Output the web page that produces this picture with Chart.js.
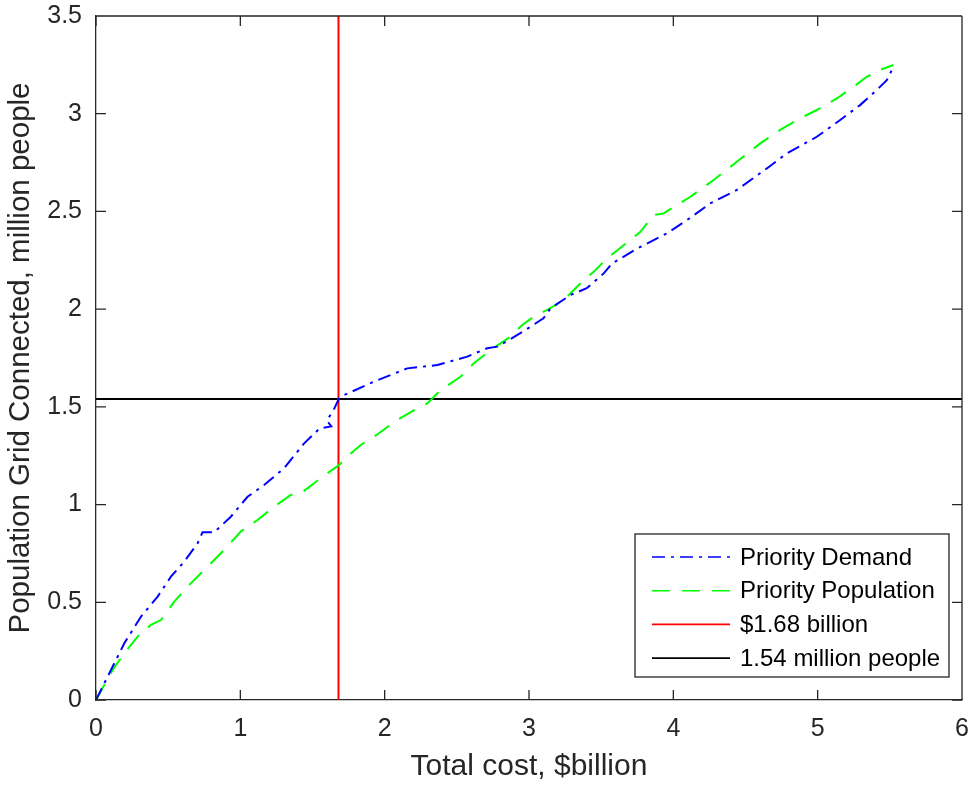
<!DOCTYPE html>
<html>
<head>
<meta charset="utf-8">
<script src="https://cdn.jsdelivr.net/npm/chart.js@4.4.1/dist/chart.umd.min.js"></script>
<style>
  body { margin: 0; background: #fff; }
</style>
</head>
<body>
<canvas id="myChart" width="970" height="785"></canvas>
<script>
// Priority Demand curve (cost in $billion, people in millions)
var demandCost = [0, 0.104, 0.196, 0.311, 0.427, 0.519, 0.611, 0.704, 0.738, 0.819,
  0.934, 1.05, 1.165, 1.303, 1.442, 1.55, 1.63, 1.60, 1.65, 1.684,
  1.695, 1.926, 2.157, 2.365, 2.572, 2.71, 2.78, 2.92, 3.01, 3.10,
  3.149, 3.287, 3.40, 3.518, 3.576, 3.75, 3.956, 4.095, 4.256, 4.44,
  4.648, 4.786, 4.994, 5.156, 5.294, 5.409, 5.479, 5.525];
var demandPeople = [0, 0.154, 0.29, 0.426, 0.529, 0.631, 0.708, 0.802, 0.858, 0.858,
  0.938, 1.04, 1.10, 1.186, 1.313, 1.39, 1.40, 1.43, 1.49, 1.544,
  1.552, 1.629, 1.697, 1.714, 1.757, 1.80, 1.808, 1.868, 1.91, 1.953,
  2.004, 2.072, 2.107, 2.183, 2.234, 2.31, 2.388, 2.456, 2.541, 2.61,
  2.72, 2.797, 2.882, 2.968, 3.044, 3.121, 3.172, 3.24];

// Priority Population curve
var popCost = [0, 0.115, 0.196, 0.288, 0.38, 0.45, 0.542, 0.657, 0.773, 0.888,
  1.003, 1.119, 1.234, 1.349, 1.419, 1.511, 1.603, 1.684, 1.765, 1.834,
  1.926, 2.087, 2.226, 2.295, 2.388, 2.526, 2.618, 2.734, 2.872, 2.953,
  3.033, 3.126, 3.241, 3.38, 3.45, 3.54, 3.61, 3.772, 3.864, 3.933,
  4.025, 4.118, 4.279, 4.44, 4.602, 4.74, 4.879, 4.994, 5.133, 5.248,
  5.34, 5.432, 5.525];
var popPeople = [0, 0.154, 0.239, 0.324, 0.384, 0.409, 0.503, 0.597, 0.682, 0.768,
  0.862, 0.921, 0.989, 1.049, 1.058, 1.109, 1.16, 1.202, 1.262, 1.305,
  1.347, 1.433, 1.493, 1.518, 1.586, 1.654, 1.723, 1.791, 1.859, 1.919,
  1.961, 1.996, 2.047, 2.149, 2.192, 2.26, 2.30, 2.396, 2.482, 2.49,
  2.533, 2.575, 2.661, 2.754, 2.848, 2.917, 2.976, 3.019, 3.078, 3.138,
  3.189, 3.224, 3.249];

// reference lines
var budgetCost = 1.68;
var targetPeople = 1.54;

var xTicks = [0, 1, 2, 3, 4, 5, 6];
var yTicks = [0, 0.5, 1, 1.5, 2, 2.5, 3, 3.5];

var seriesNames = ['Priority Demand', 'Priority Population', '$1.68 billion', '1.54 million people'];

var axisColor = '#262626';
var fontFamily = '"Liberation Sans", Arial, Helvetica, sans-serif';

function toPoints(xs, ys) {
  return xs.map(function(x, i) { return { x: x, y: ys[i] }; });
}

// MATLAB-style box with inward ticks on all four sides
var boxPlugin = {
  id: 'box',
  afterDraw: function(chart) {
    var c = chart.ctx, a = chart.chartArea;
    var xs = chart.scales.x, ys = chart.scales.y;
    c.save();
    c.strokeStyle = axisColor;
    c.lineWidth = 1.3;
    c.beginPath();
    c.moveTo(a.left, a.top); c.lineTo(a.right, a.top);
    c.moveTo(a.right, a.top); c.lineTo(a.right, a.bottom);
    xTicks.forEach(function(v) {
      var p = xs.getPixelForValue(v);
      c.moveTo(p, a.bottom); c.lineTo(p, a.bottom - 10);
      c.moveTo(p, a.top); c.lineTo(p, a.top + 10);
    });
    yTicks.forEach(function(v) {
      var p = ys.getPixelForValue(v);
      c.moveTo(a.left, p); c.lineTo(a.left + 10, p);
      c.moveTo(a.right, p); c.lineTo(a.right - 10, p);
    });
    c.stroke();
    c.restore();
  }
};

// legend box inside the plot, bottom right
var legendPlugin = {
  id: 'boxLegend',
  afterDraw: function(chart) {
    var c = chart.ctx, a = chart.chartArea;
    var w = 314, h = 143;
    var left = a.right - 13 - w, top = a.bottom - 23 - h;
    c.save();
    c.fillStyle = '#fff';
    c.fillRect(left, top, w, h);
    c.strokeStyle = axisColor;
    c.lineWidth = 1.3;
    c.strokeRect(left, top, w, h);
    c.font = '24px ' + fontFamily;
    c.textBaseline = 'middle';
    c.fillStyle = '#000';
    chart.data.datasets.forEach(function(ds, i) {
      var y = top + 23 + i * 33.7;
      c.strokeStyle = ds.borderColor;
      c.lineWidth = 1.6;
      c.setLineDash(ds.borderDash || []);
      c.beginPath();
      c.moveTo(left + 17, y); c.lineTo(left + 95, y);
      c.stroke();
      c.setLineDash([]);
      c.fillText(ds.label, left + 105, y + 1);
    });
    c.restore();
  }
};

var ctx = document.getElementById('myChart');

var myChart = new Chart(ctx, {
  type: 'line',
  data: {
    datasets: [
      {
        label: seriesNames[0],
        data: toPoints(demandCost, demandPeople),
        borderColor: '#0000ff',
        borderWidth: 2,
        borderDash: [13, 6, 3, 6],
        pointRadius: 0,
        tension: 0,
        fill: false
      },
      {
        label: seriesNames[1],
        data: toPoints(popCost, popPeople),
        borderColor: '#00ff00',
        borderWidth: 2,
        borderDash: [18, 12],
        pointRadius: 0,
        tension: 0,
        fill: false
      },
      {
        label: seriesNames[2],
        data: [{ x: budgetCost, y: 0 }, { x: budgetCost, y: 3.5 }],
        borderColor: '#ff0000',
        borderWidth: 2,
        pointRadius: 0,
        fill: false
      },
      {
        label: seriesNames[3],
        data: [{ x: 0, y: targetPeople }, { x: 6, y: targetPeople }],
        borderColor: '#000000',
        borderWidth: 2,
        pointRadius: 0,
        fill: false
      }
    ]
  },
  options: {
    responsive: false,
    animation: false,
    layout: { padding: { top: 16, right: 8, left: 0, bottom: 0 } },
    plugins: {
      legend: { display: false },
      tooltip: { enabled: false }
    },
    scales: {
      x: {
        type: 'linear',
        min: 0,
        max: 6,
        afterFit: function(s) { s.height = 85; s.paddingLeft = 0; s.paddingRight = 0; },
        afterBuildTicks: function(s) { s.ticks = xTicks.map(function(v) { return { value: v }; }); },
        ticks: {
          color: axisColor,
          font: { size: 25, family: fontFamily },
          padding: 14,
          maxRotation: 0
        },
        grid: { display: false, drawTicks: false },
        border: { display: true, color: axisColor, width: 1.3 },
        title: {
          display: true,
          text: 'Total cost, $billion',
          color: axisColor,
          font: { size: 30, family: fontFamily },
          padding: { top: 0, bottom: 0 }
        }
      },
      y: {
        type: 'linear',
        min: 0,
        max: 3.5,
        afterFit: function(s) { s.width = 96; s.paddingTop = 0; s.paddingBottom = 0; },
        afterBuildTicks: function(s) { s.ticks = yTicks.map(function(v) { return { value: v }; }); },
        ticks: {
          color: axisColor,
          font: { size: 25, family: fontFamily },
          padding: 14,
          callback: function(v) { return String(+Number(v).toFixed(1)); }
        },
        grid: { display: false, drawTicks: false },
        border: { display: true, color: axisColor, width: 1.3 },
        title: {
          display: true,
          text: 'Population Grid Connected, million people',
          color: axisColor,
          font: { size: 29.5, family: fontFamily },
          padding: { top: 3, bottom: 0 }
        }
      }
    }
  },
  plugins: [boxPlugin, legendPlugin]
});
</script>
</body>
</html>
